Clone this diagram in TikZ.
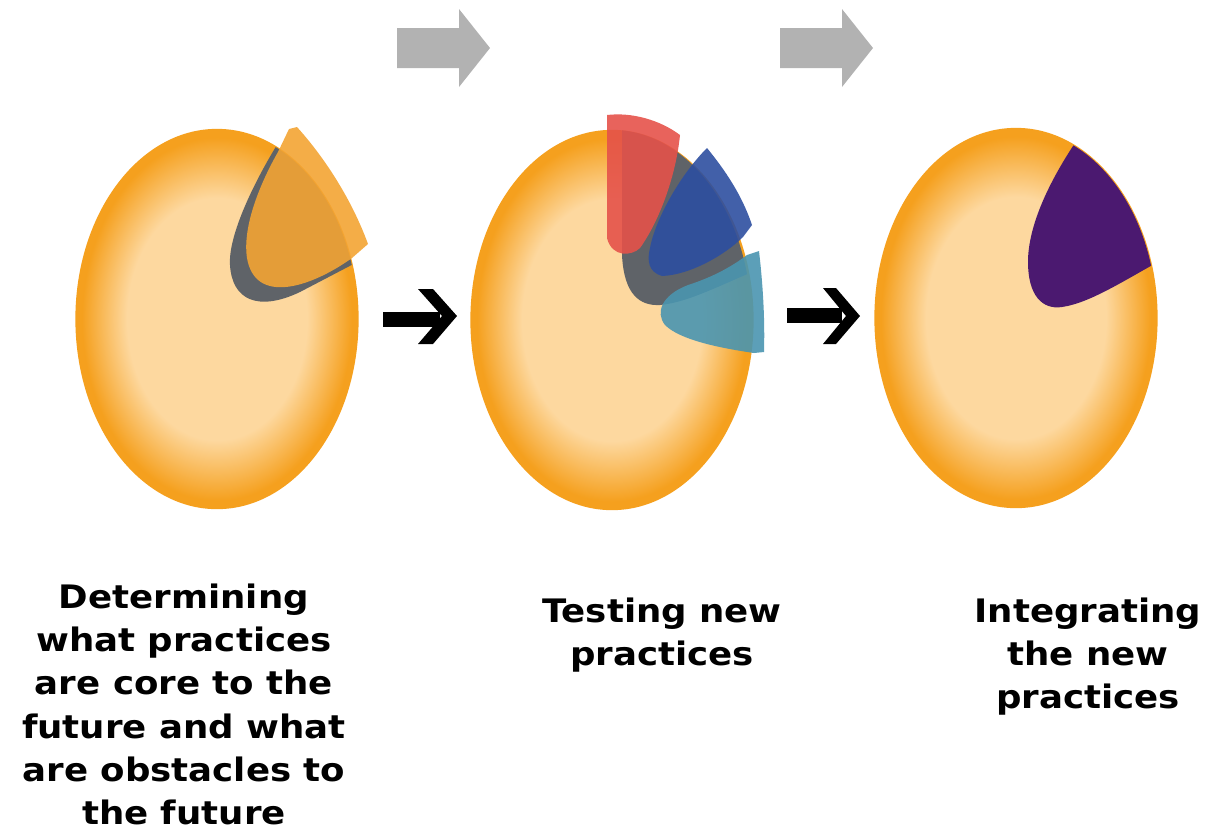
\documentclass[tikz,border=0pt]{standalone}
\usepackage{fontspec}
\newfontfamily\capfont{DejaVu Sans}[FakeStretch=1.1]
\usetikzlibrary{shapes.geometric}
\definecolor{eggin}{HTML}{FDD89F}
\definecolor{eggout}{HTML}{F5A01E}
\definecolor{pgrey}{HTML}{5F6368}
\definecolor{pwedge}{HTML}{F3A433}
\definecolor{pred}{HTML}{E5524A}
\definecolor{pblue}{HTML}{2D4FA0}
\definecolor{pteal}{HTML}{4A95B0}
\definecolor{ppurple}{HTML}{4B1970}
\definecolor{arrgrey}{HTML}{B2B2B2}
\pgfdeclareradialshading{eggshade}{\pgfpoint{0bp}{0bp}}{color(0bp)=(eggin); color(16bp)=(eggin); color(24bp)=(eggout); color(50bp)=(eggout)}

\begin{document}
\begin{tikzpicture}[x=0.01cm,y=-0.01cm,
  egg/.style={ellipse, minimum width=2.81cm, minimum height=3.78cm, inner sep=0, shading=eggshade, draw=eggout, line width=0.6pt},
  piece/.style={fill opacity=0.9},
  capt/.style={font=\capfont\bfseries\fontsize{9.2}{12.3}\selectfont, align=center, anchor=north, inner sep=0}]
\useasboundingbox (0,0) rectangle (1211,832);

\node[egg] (e1) at (217,319) {};
\node[egg] (e2) at (612,320) {};
\node[egg] (e3) at (1016,318) {};

\begin{scope}
\clip (e1.center) ellipse [x radius=1.405cm, y radius=1.89cm];
\fill[pgrey] (280,140) .. controls (255,180) and (228,235) .. (230,265) .. controls (232,300) and (258,312) .. (300,292) -- (365,258) -- (420,120) -- cycle;
\end{scope}
\fill[pwedge, piece] (289,129) -- (297,127) .. controls (325,158) and (352,200) .. (368,244) -- (352,258) .. controls (310,288) and (255,305) .. (247,258) .. controls (242,225) and (262,180) .. (278,152) -- cycle;

\begin{scope}
\clip (e2.center) ellipse [x radius=1.39cm, y radius=1.9cm];
\fill[pgrey] (622,100) -- (622,255) .. controls (624,295) and (640,306) .. (660,305) .. controls (690,302) and (720,285) .. (780,260) -- (800,100) -- cycle;
\end{scope}
\fill[pred, piece] (607,115) .. controls (632,112) and (660,120) .. (680,135) .. controls (676,175) and (660,220) .. (640,248) .. controls (632,256) and (612,258) .. (607,238) -- cycle;
\fill[pblue, piece] (707,148) .. controls (725,170) and (742,195) .. (752,225) -- (743,237) .. controls (725,255) and (690,275) .. (662,276) .. controls (648,272) and (647,260) .. (650,248) .. controls (655,220) and (680,175) .. (707,148) -- cycle;
\fill[pteal, piece] (747,255) -- (759,251) .. controls (763,285) and (765,320) .. (764,352) -- (754,353) .. controls (720,348) and (680,340) .. (665,325) .. controls (655,312) and (662,295) .. (688,285) .. controls (710,278) and (730,268) .. (747,255) -- cycle;

\begin{scope}
\clip (e3.center) ellipse [x radius=1.405cm, y radius=1.89cm];
\fill[ppurple] (1077,140) .. controls (1050,180) and (1028,225) .. (1028,262) .. controls (1028,295) and (1042,310) .. (1062,307) .. controls (1090,303) and (1125,280) .. (1165,258) -- (1200,100) -- cycle;
\end{scope}

\fill[arrgrey] (397,28) -- (459,28) -- (459,9) -- (490,48) -- (459,87) -- (459,68) -- (397,68) -- cycle;
\fill[arrgrey] (780,28) -- (842,28) -- (842,9) -- (873,48) -- (842,87) -- (842,68) -- (780,68) -- cycle;

\fill[black] (383,312) rectangle (440,327);
\fill[black] (418,289) -- (433,289) -- (457,316) -- (433,344) -- (418,344) -- (442,316) -- cycle;
\fill[black] (787,308) rectangle (842,323);
\fill[black] (823,288) -- (836,288) -- (860,316) -- (836,344) -- (823,344) -- (846,316) -- cycle;

\node[capt] (t1) at (184,583) {Determining\\what practices\\are core to the\\future and what\\are obstacles to\\the future};
\node[capt] (t2) at (662,597) {Testing new\\practices};
\node[capt] (t3) at (1088,597) {Integrating\\the new\\practices};
\end{tikzpicture}
\end{document}
